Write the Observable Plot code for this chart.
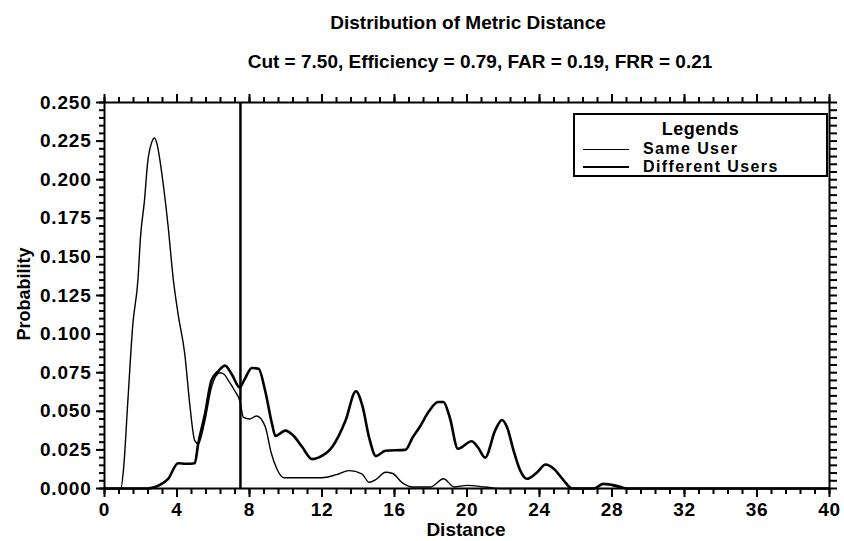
<!DOCTYPE html>
<html><head><meta charset="utf-8">
<script src="https://cdn.jsdelivr.net/npm/d3@7"></script>
<script src="https://cdn.jsdelivr.net/npm/@observablehq/plot@0.6"></script>
<style>
body{margin:0;background:#fff;}
#wrap{position:relative;width:844px;height:541px;font-family:"Liberation Sans",Arial,sans-serif;font-weight:bold;color:#000;overflow:hidden;}
.t{position:absolute;white-space:nowrap;text-align:center;line-height:1;}
#legend{position:absolute;left:573px;top:113px;width:251px;height:60px;border:2px solid #000;background:#fff;}
#legend .hd{position:absolute;left:0;width:100%;top:5px;text-align:center;font-size:18px;line-height:18px;letter-spacing:0.5px;}
#legend .row{position:absolute;left:8px;height:18px;display:flex;align-items:center;font-size:16px;line-height:18px;letter-spacing:1.4px;white-space:nowrap;}
#legend .smp{width:46px;height:0;margin-right:14px;border-top-style:solid;border-top-color:#000;}
</style></head>
<body>
<div id="wrap">
  <div id="chart"></div>
  <div class="t" id="title" style="left:268px;width:400px;top:13px;font-size:19px;">Distribution of Metric Distance</div>
  <div class="t" id="subtitle" style="left:180px;width:600px;top:52px;font-size:19px;">Cut = 7.50, Efficiency = 0.79, FAR = 0.19, FRR = 0.21</div>
  <div class="t" id="xlabel" style="left:366px;width:200px;top:520px;font-size:19px;">Distance</div>
  <div class="t" id="ylabel" style="left:-26px;width:100px;top:285px;font-size:18px;transform:rotate(-90deg);transform-origin:50% 50%;">Probability</div>
  <div id="legend">
    <div class="hd">Legends</div>
    <div class="row" style="top:25px;"><div class="smp" style="border-top-width:1.5px;"></div><span>Same User</span></div>
    <div class="row" style="top:43px;"><div class="smp" style="border-top-width:2.5px;"></div><span>Different Users</span></div>
  </div>
</div>
<script>
// ---- data ----
const cutValue = 7.5;
const xMajorTicks = [0, 4, 8, 12, 16, 20, 24, 28, 32, 36, 40];
const yMajorTicks = [0, 0.025, 0.05, 0.075, 0.1, 0.125, 0.15, 0.175, 0.2, 0.225, 0.25];

const sameUserDistance = [0, 0.9, 1.06, 1.28, 1.56, 1.85, 1.98, 2.2, 2.39, 2.6, 2.76, 2.9, 3.04, 3.22, 3.5, 3.8, 4.06, 4.43, 4.7, 4.98, 5.17, 5.54, 5.9, 6.15, 6.37, 6.6, 6.83, 7.2, 7.46, 7.67, 8.0, 8.4, 8.87, 9.2, 9.5, 9.9, 10.7, 12.0, 12.8, 13.5, 14.2, 14.6, 15.0, 15.5, 15.9, 16.4, 17.0, 18.0, 18.7, 19.3, 20.0, 21.0, 22.0, 27.0, 27.6, 28.3, 29.0, 40];
const sameUserProb = [0, 0, 0.014, 0.055, 0.106, 0.136, 0.162, 0.186, 0.212, 0.224, 0.227, 0.223, 0.214, 0.199, 0.171, 0.135, 0.113, 0.087, 0.055, 0.031, 0.029, 0.044, 0.0655, 0.073, 0.075, 0.074, 0.070, 0.063, 0.057, 0.046, 0.045, 0.047, 0.040, 0.023, 0.013, 0.007, 0.007, 0.007, 0.009, 0.0116, 0.0095, 0.004, 0.006, 0.0105, 0.0097, 0.004, 0.001, 0.001, 0.0063, 0.001, 0.002, 0.001, 0, 0, 0.003, 0.001, 0, 0];

const diffUsersDistance = [0, 2.4, 3.0, 3.5, 4.06, 4.5, 4.98, 5.17, 5.54, 5.9, 6.28, 6.65, 7.02, 7.46, 7.7, 8.13, 8.5, 8.87, 9.24, 9.43, 9.98, 10.44, 10.9, 11.46, 11.8, 12.57, 13.3, 13.87, 14.24, 14.6, 14.98, 15.5, 16.6, 17.0, 17.4, 17.9, 18.4, 18.7, 19.05, 19.5, 20.26, 20.6, 21.0, 21.55, 21.93, 22.2, 22.57, 22.94, 23.3, 23.87, 24.33, 24.8, 25.35, 25.8, 27.0, 27.5, 28.2, 28.8, 40];
const diffUsersProb = [0, 0, 0.002, 0.006, 0.0164, 0.016, 0.0164, 0.029, 0.048, 0.070, 0.076, 0.0796, 0.074, 0.0655, 0.070, 0.078, 0.0776, 0.063, 0.042, 0.034, 0.0375, 0.034, 0.027, 0.019, 0.020, 0.027, 0.044, 0.063, 0.053, 0.033, 0.021, 0.0245, 0.025, 0.033, 0.040, 0.050, 0.056, 0.056, 0.046, 0.0257, 0.0306, 0.0267, 0.020, 0.0375, 0.0444, 0.040, 0.0246, 0.0116, 0.0063, 0.0105, 0.0155, 0.0127, 0.005, 0, 0, 0.003, 0.002, 0, 0];

// ---- build tables ----
const sameUser = sameUserDistance.map((d, i) => ({distance: d, probability: sameUserProb[i]}));
const diffUsers = diffUsersDistance.map((d, i) => ({distance: d, probability: diffUsersProb[i]}));
const xMinorTicks = d3.range(0, 40.001, 0.8);
const yMinorTicks = d3.range(0, 0.2501, 0.005);

const chart = Plot.plot({
  width: 844,
  height: 541,
  marginTop: 102,
  marginBottom: 53,
  marginLeft: 104,
  marginRight: 15,
  x: {domain: [0, 40], label: null},
  y: {domain: [0, 0.25], label: null},
  style: {fontFamily: "'Liberation Sans', Arial, sans-serif", fontSize: "19px", fontWeight: "bold", letterSpacing: "0.8px", color: "black", background: "white"},
  marks: [
    Plot.axisX(xMajorTicks, {anchor: "bottom", tickSize: 9, tickPadding: 5, strokeWidth: 2, tickFormat: d => String(d), label: null}),
    Plot.axisX(xMinorTicks, {anchor: "bottom", tickSize: 6, strokeWidth: 2, fill: "none", label: null}),
    Plot.axisX(xMajorTicks, {anchor: "top", tickSize: 9, strokeWidth: 2, fill: "none", label: null}),
    Plot.axisX(xMinorTicks, {anchor: "top", tickSize: 6, strokeWidth: 2, fill: "none", label: null}),
    Plot.axisY(yMajorTicks, {anchor: "left", tickSize: 8, tickPadding: 5, strokeWidth: 2, tickFormat: d3.format(".3f"), label: null}),
    Plot.axisY(yMinorTicks, {anchor: "left", tickSize: 5, strokeWidth: 2, fill: "none", label: null}),
    Plot.axisY(yMinorTicks, {anchor: "right", tickSize: 7, strokeWidth: 2, fill: "none", label: null}),
    Plot.frame({stroke: "black", strokeWidth: 2}),
    Plot.ruleX([cutValue], {stroke: "black", strokeWidth: 2.5}),
    Plot.line(sameUser, {x: "distance", y: "probability", stroke: "black", strokeWidth: 1.4, curve: "monotone-x"}),
    Plot.line(diffUsers, {x: "distance", y: "probability", stroke: "black", strokeWidth: 2.6, curve: "monotone-x"})
  ]
});
document.getElementById("chart").appendChild(chart);
</script>
</body></html>
